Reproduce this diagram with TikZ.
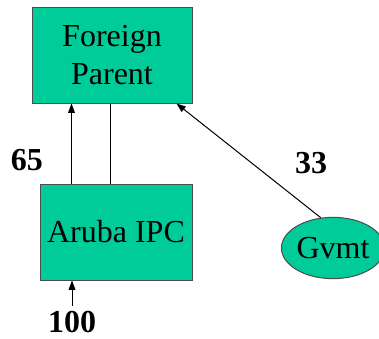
\documentclass[tikz,border=0pt]{standalone}
\usepackage{fontspec}
\setmainfont{Liberation Serif}
\usetikzlibrary{shapes.geometric, arrows.meta, positioning, calc}
\definecolor{boxgreen}{RGB}{0,204,153}

\begin{document}
\begin{tikzpicture}[x=0.75pt, y=-0.75pt,
        entity/.style={draw=black!70, line width=0.75pt, fill=boxgreen, font=\fontsize{24}{28}\selectfont, align=center, inner sep=0pt},
        share/.style={font=\fontsize{24}{28}\selectfont\bfseries, inner sep=1pt},
        arr/.style={-{Triangle[length=7pt, width=5pt]}, line width=0.75pt}]
            \useasboundingbox (0,0) rectangle (379,339);
            \node[entity, rectangle, minimum width=120pt, minimum height=72pt] (foreign) at (112,55) {Foreign\\Parent};
            \node[entity, rectangle, minimum width=114pt, minimum height=72pt] (aruba) at (116,232) {Aruba IPC};
            \node[entity, ellipse, minimum width=67pt, minimum height=46pt] (gvmt) at (333,248) {Gvmt};
            \node[share] (s65) at (27,160) {65};
            \node[share] (s33) at (311,163) {33};
            \node[share] (s100) at (72,322) {100};
            \draw[arr] ([xshift=24pt]aruba.north west) -- ([xshift=24pt]aruba.north west |- foreign.south);
            \draw[line width=0.75pt] ([xshift=53pt]aruba.north west) -- ([xshift=53pt]aruba.north west |- foreign.south);
            \draw[arr] (gvmt.112) -- ([xshift=-12pt]foreign.south east);
            \draw[arr] ([yshift=3pt]s100.north) -- (s100.north |- aruba.south);
        \end{tikzpicture}
\end{document}
